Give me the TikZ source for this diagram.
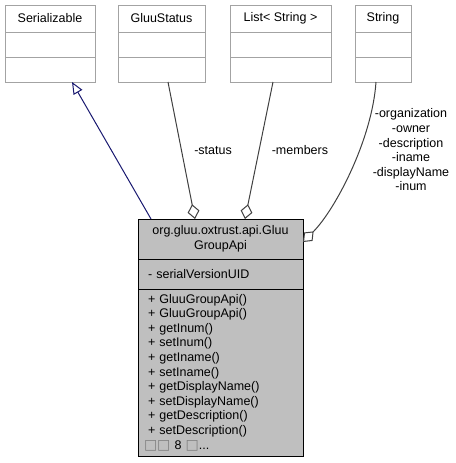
\documentclass[tikz,border=0pt]{standalone}
\usepackage{fontspec}
\setmainfont{Liberation Sans}
\newfontfamily\symfont{DejaVu Sans}
\usepackage{tikz}
\usetikzlibrary{positioning}
\usetikzlibrary{arrows.meta}
\definecolor{boxgray}{HTML}{A3A3A3}
\definecolor{mainfill}{HTML}{BFBFBF}
\definecolor{linkgray}{HTML}{404040}
\definecolor{inherit}{HTML}{191970}
\tikzset{every node/.style={font=\fontsize{12.5}{14.6}\selectfont}}
\tikzset{classhead/.style={draw=boxgray, fill=white, line width=1pt, minimum width=#1, minimum height=27pt, inner sep=0, outer sep=0, anchor=north}}
\tikzset{classpart/.style={draw=boxgray, fill=white, line width=1pt, minimum width=#1, minimum height=25pt, inner sep=0, outer sep=0}}
\tikzset{mainbox/.style={draw, fill=mainfill, line width=1pt, minimum width=165pt, inner xsep=6pt, inner ysep=0, outer sep=0, text width=153pt}}
\tikzset{aggr/.style={draw=linkgray, line width=1pt, -{Diamond[fill=white, length=15pt, width=12pt]}}}
\tikzset{isa/.style={draw=inherit, line width=1pt, -{Triangle[fill=white, length=12pt, width=10pt]}}}
\tikzset{rolelabel/.style={right, xshift=9pt}}
\newcommand{\tofu}[1]{{\symfont\fontsize{14}{14.6}\selectfont\color{black!50}#1}}

\begin{document}
\begin{tikzpicture}[x=1pt, y=-1pt]
  \useasboundingbox (0,0) rectangle (455,463);

  \node[classhead=90pt] at (50, 5) (ser) {Serializable};
  \node[classpart=90pt, below=0pt of ser] (ser1) {};
  \node[classpart=90pt, below=0pt of ser1] (ser2) {};

  \node[classhead=87pt] at (161.5, 5) (gstat) {GluuStatus};
  \node[classpart=87pt, below=0pt of gstat] (gstat1) {};
  \node[classpart=87pt, below=0pt of gstat1] (gstat2) {};

  \node[classhead=101pt] at (280.5, 5) (slist) {List< String >};
  \node[classpart=101pt, below=0pt of slist] (slist1) {};
  \node[classpart=101pt, below=0pt of slist1] (slist2) {};

  \node[classhead=56pt] at (383, 5) (str) {String};
  \node[classpart=56pt, below=0pt of str] (str1) {};
  \node[classpart=56pt, below=0pt of str1] (str2) {};

  \node[mainbox, anchor=north, minimum height=40pt, align=center] at (220.5, 219) (api)
    {org.gluu.oxtrust.api.Gluu\\GroupApi};
  \node[mainbox, minimum height=30pt, align=left, below=0pt of api] (apiattr)
    {\hspace*{4pt}- serialVersionUID};
  \node[mainbox, minimum height=167pt, align=left, below=0pt of apiattr] (apiops)
    {\leftskip=4pt + GluuGroupApi()\\+ GluuGroupApi()\\+ getInum()\\+ setInum()\\+ getIname()\\
     + setIname()\\+ getDisplayName()\\+ setDisplayName()\\+ getDescription()\\
     + setDescription()\\\tofu{□□} 8 \tofu{□}...};

    \draw ([xshift=13pt]api.north west) edge[isa] ([xshift=22pt]ser2.south);

    \draw ([xshift=6.5pt]gstat2.south) edge[aggr] node[rolelabel] {-status} ([xshift=57pt]api.north west);
    \draw ([xshift=-7.5pt]slist2.south) edge[aggr] node[rolelabel] {-members} ([xshift=107pt]api.north west);

    \draw[aggr] ([xshift=-7pt]str2.south) .. controls (372, 140) and (335, 210) .. ([yshift=-3pt]api.east);
    \node[align=center] at (411, 150) (strrole)
      {-organization\\-owner\\-description\\-iname\\-displayName\\-inum};
  \end{tikzpicture}
\end{document}
